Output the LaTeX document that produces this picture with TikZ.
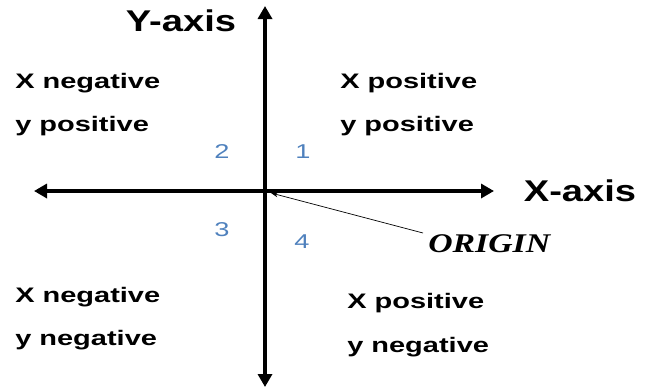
\documentclass[tikz,border=0pt]{standalone}
\usepackage{fontspec}
\setmainfont{Liberation Sans}
\newfontfamily\serifbi{Liberation Serif}
\usetikzlibrary{arrows.meta}
\definecolor{numblue}{HTML}{4F81BD}
\tikzset{
  axis/.style={line width=4pt,-{Triangle[length=13pt,width=14pt]}},
  quad/.style={font=\fontsize{21}{25}\selectfont\bfseries,xscale=1.38,inner sep=0pt,anchor=west,align=left},
  axlabel/.style={font=\fontsize{30}{34}\selectfont\bfseries,xscale=1.27,inner sep=0pt},
  num/.style={font=\fontsize{20}{24}\selectfont,text=numblue,xscale=1.36,inner sep=0pt},
  leader/.style={line width=0.7pt,-{Stealth[length=7pt,width=5pt]}}
}
\begin{document}
\begin{tikzpicture}[x=1pt,y=-1pt]
\useasboundingbox (0,0) rectangle (652,389);
\coordinate (O) at (265,191);
\coordinate (top) at (265,6);
\coordinate (bot) at (265,387);
\coordinate (left) at (34,191);
\coordinate (right) at (494,191);
\draw[axis] (O) -- (top);
\draw[axis] (O) -- (bot);
\draw[axis] (O) -- (left);
\draw[axis] (O) -- (right);
\node[axlabel] (ylab) at (181,21) {Y-axis};
\node[axlabel] (xlab) at (580,191) {X-axis};
\node[quad] (q2a) at (15,83) {X negative};
\node[quad] (q2b) at (15,126) {y positive};
\node[quad] (q1a) at (340,83) {X positive};
\node[quad] (q1b) at (340,126) {y positive};
\node[quad] (q3a) at (15,297) {X negative};
\node[quad] (q3b) at (15,340) {y negative};
\node[quad] (q4a) at (347,303) {X positive};
\node[quad] (q4b) at (347,347) {y negative};
\node[num] (n2) at (222,152) {2};
\node[num] (n1) at (303,152) {1};
\node[num] (n3) at (222,230) {3};
\node[num] (n4) at (302,242) {4};
\node[font=\fontsize{27}{30}\serifbi\bfseries\itshape,xscale=1.25,inner sep=0pt,anchor=west] (orig) at (428,244) {ORIGIN};
\coordinate (lstart) at (423,233);
\coordinate (ltip) at (271,193);
\draw[leader] (lstart) -- (ltip);
\end{tikzpicture}
\end{document}
